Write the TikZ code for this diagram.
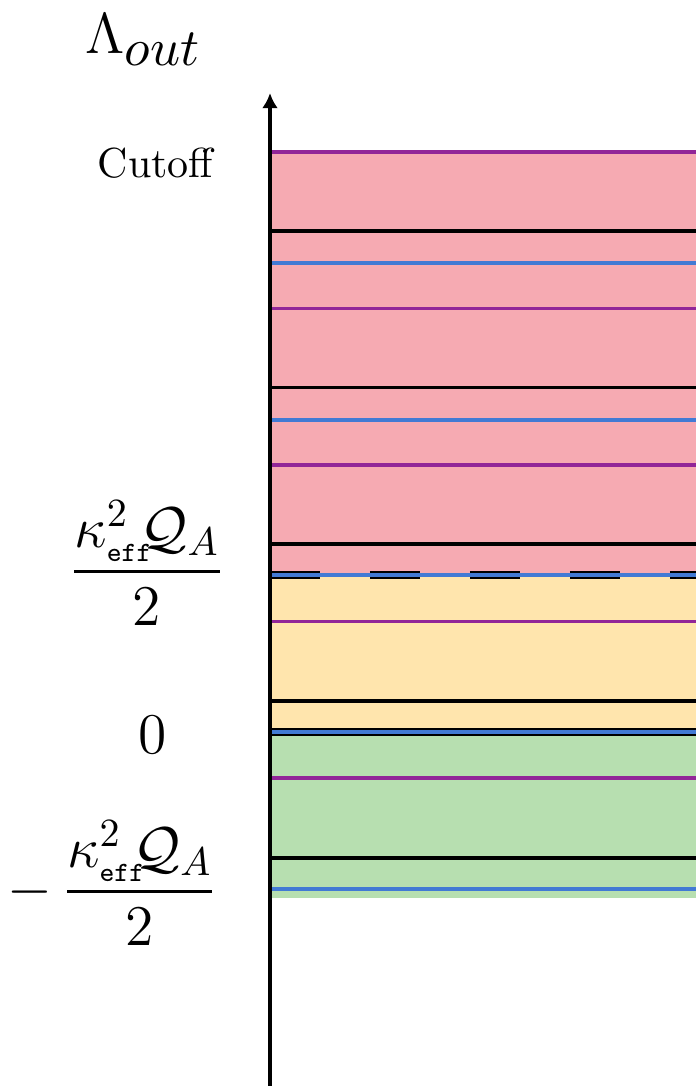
\documentclass[tikz,border=0pt]{standalone}
\usepackage{amsmath,amssymb}
\usepackage{tikz}
\usetikzlibrary{arrows.meta}
\definecolor{bandRed}{RGB}{246,170,178}
\definecolor{bandYellow}{RGB}{255,229,173}
\definecolor{bandGreen}{RGB}{183,223,176}
\definecolor{linePurple}{RGB}{146,38,152}
\definecolor{lineBlue}{RGB}{66,122,212}
\newcommand{\kapQ}{\dfrac{\kappa^2_{\scriptscriptstyle\mathtt{eff}}\mkern-4mu\mathcal{Q}_A}{2}}

\begin{document}
\begin{tikzpicture}[
    x=0.25pt, y=-0.25pt,
    level/.style={line width=0.8pt},
    purpleline/.style={level, draw=linePurple},
    blackline/.style={level, draw=black},
    blueline/.style={level, draw=lineBlue},
    ticklabel/.style={font=\fontsize{14}{17}\selectfont, inner sep=0pt},
    axis/.style={line width=1pt, -{Latex[length=3.8pt, width=4pt]}}
]
\useasboundingbox (0,0) rectangle (696,1086);

% Bands
\fill[bandRed] (270,152) rectangle (696,575);
\fill[bandYellow] (270,575) rectangle (696,732);
\fill[bandGreen] (270,732) rectangle (696,898);

% Levels, one group per period
\foreach \y in {152, 308.5, 465, 621.5, 778} {
    \draw[purpleline] (270,\y) -- (696,\y);
}
\foreach \y in {231, 387.5, 544, 701, 858} {
    \draw[blackline] (270,\y) -- (696,\y);
}
\foreach \y in {263, 420, 889} {
    \draw[blueline] (270,\y) -- (696,\y);
}

% Boundary of the upper band
\draw[line width=1.8pt, dash pattern=on 12.5pt off 12.5pt] (270,575) -- (696,575);
\draw[blueline] (270,575) -- (696,575);

% Zero level
\draw[line width=2.2pt] (270,732) -- (696,732);
\draw[blueline, line width=1pt] (270,732) -- (696,732);

% Axis
\coordinate (axisbot) at (270,1086);
\coordinate (axistop) at (270,93);
\draw[axis] (axisbot) -- (axistop);

% Labels
\node[ticklabel, font=\fontsize{15}{18}\selectfont, anchor=base west] (lam) at (85,53)
    {$\Lambda_{\scalebox{1.2}{$\scriptstyle out$}}$};
\node[font=\fontsize{10.5}{12}\selectfont, inner sep=0pt, anchor=base west] (cut) at (97,177) {Cutoff};
\node[ticklabel, anchor=base] (plus) at (147,586) {$\kapQ$};
\node[ticklabel, font=\fontsize{15.5}{19}\selectfont, anchor=base] (zero) at (153,753) {$0$};
\node[ticklabel, anchor=base east] (minus) at (218,906) {$-\mkern3mu\kapQ$};

\end{tikzpicture}
\end{document}
